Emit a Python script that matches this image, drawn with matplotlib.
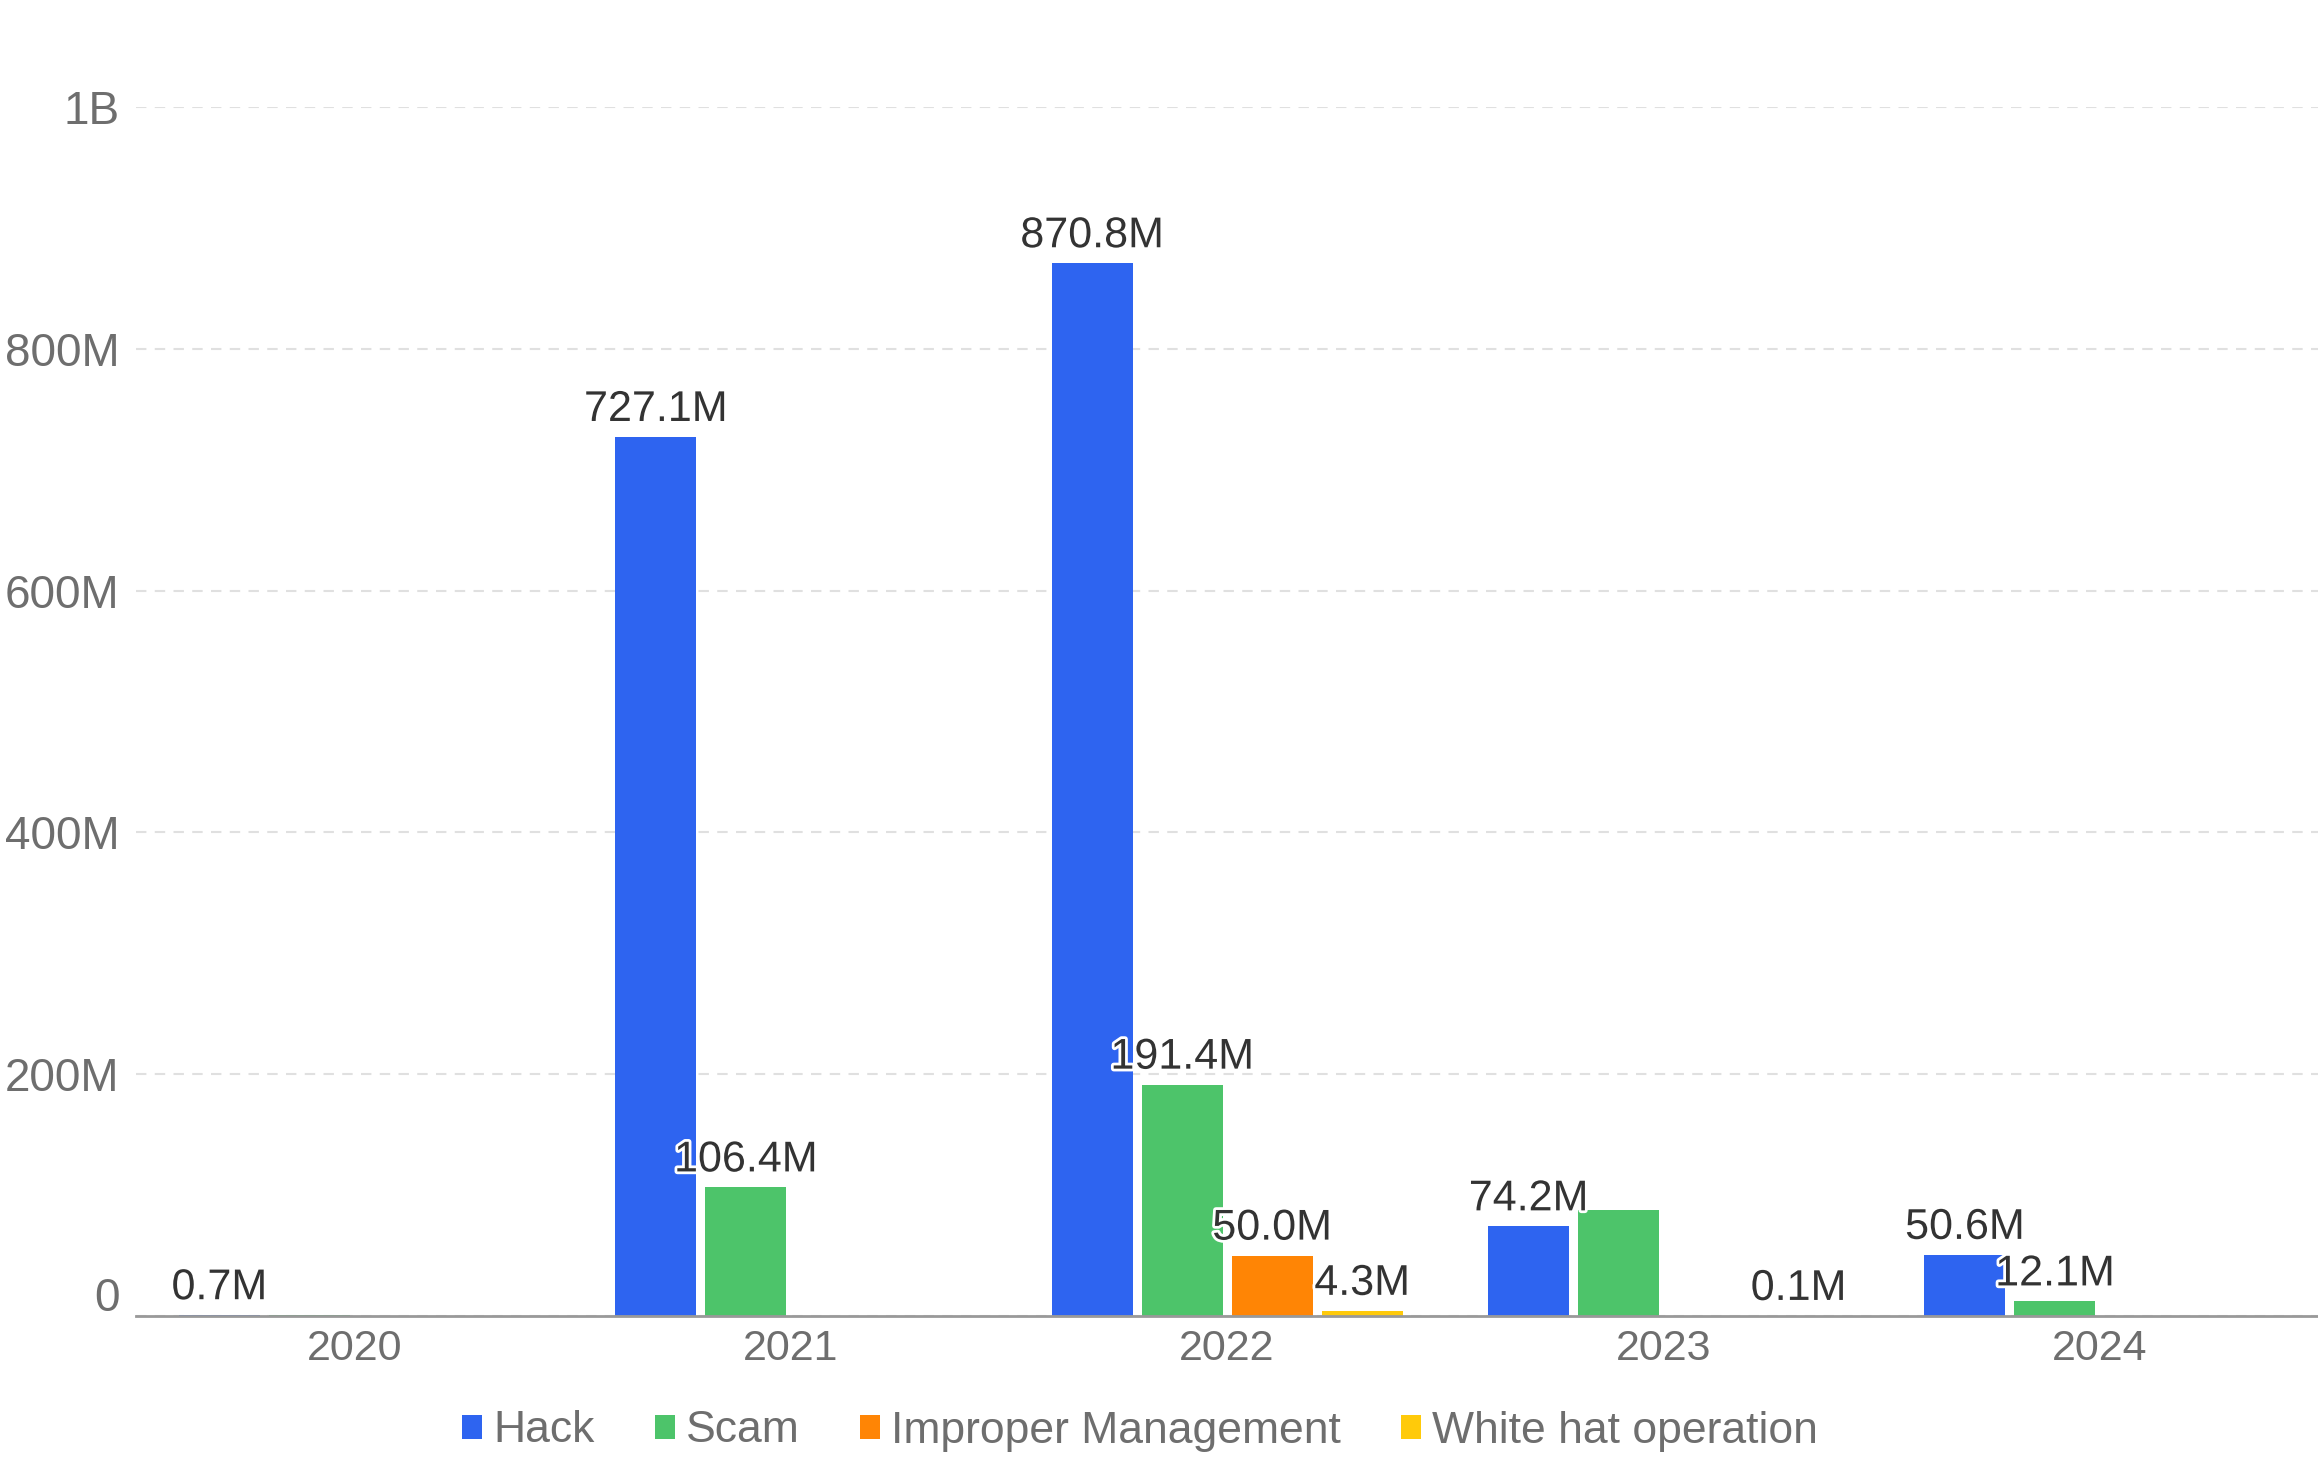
import matplotlib
matplotlib.use("Agg")
import matplotlib.pyplot as plt
import matplotlib.patheffects as pe
import matplotlib.transforms as mtransforms
from matplotlib.patches import Patch
import numpy as np

years = ["2020", "2021", "2022", "2023", "2024"]
series_names = ["Hack", "Scam", "Improper Management", "White hat operation"]
hack = [0.7, 727.1, 870.8, 74.2, 50.6]
scam = [0.5, 106.4, 191.4, 87.7, 12.1]
improper = [0.0, 0.0, 50.0, 0.0, 0.3]
whitehat = [0.0, 0.0, 4.3, 0.1, 0.0]
# which labels are shown in the reference (others hidden)
show_hack = [True, True, True, True, True]
show_scam = [False, True, True, False, True]
show_improper = [False, False, True, False, False]
show_whitehat = [False, False, True, True, False]

colors = ["#2E64F0", "#4DC46A", "#FF8505", "#FFCA0A"]
yticks = [0, 200, 400, 600, 800, 1000]
ytick_labels = ["0", "200M", "400M", "600M", "800M", "1B"]

plt.rcParams['font.family'] = ['Liberation Sans', 'DejaVu Sans']

fig = plt.figure(figsize=(23.18, 14.60), dpi=100)
ax = fig.add_axes([136/2318, 1 - 1316/1460, 1 - 136/2318, (1316 - 107)/1460])

x = np.arange(len(years))
w = 81/436.4
g = 9/436.4
data = [hack, scam, improper, whitehat]
shows = [show_hack, show_scam, show_improper, show_whitehat]
for i, (vals, sh, c, name) in enumerate(zip(data, shows, colors, series_names)):
    off = (i - 1.5) * (w + g)
    ax.bar(x + off, vals, width=w, color=c, label=name, zorder=3)
    for xi, v, s in zip(x, vals, sh):
        if s:
            ax.annotate(f"{v:.1f}M", (xi + off, v), xytext=(0, 5), textcoords="offset points",
                        ha="center", va="bottom", fontsize=31, color="#333333", zorder=5,
                        path_effects=[pe.withStroke(linewidth=4, foreground="white")])

ax.set_xlim(-0.5, 4.5)
ax.set_ylim(0, 1000)
ax.set_yticks(yticks)
ax.set_yticklabels(ytick_labels)
ax.set_xticks(x)
ax.set_xticklabels(years)
ax.tick_params(axis='both', length=0, labelcolor="#6E6E6E")
ax.tick_params(axis='y', pad=12, labelsize=33)
ax.tick_params(axis='x', pad=9, labelsize=31)
ax.grid(axis='y', color="#E0E0E0", linestyle=(0, (5, 4)), linewidth=1.5, zorder=0)
for sp in ["top", "right", "left"]:
    ax.spines[sp].set_visible(False)
ax.spines["bottom"].set_color("#999999")
ax.spines["bottom"].set_linewidth(2)
ax.spines["bottom"].set_zorder(4)

# the "0" label sits slightly above the axis line in the reference
zero_lbl = ax.get_yticklabels()[0]
zero_lbl.set_transform(zero_lbl.get_transform() +
                       mtransforms.ScaledTranslation(0, 22/100, fig.dpi_scale_trans))

handles = [Patch(facecolor=c, label=n) for c, n in zip(colors, series_names)]
fig.legend(handles=handles, loc="center", bbox_to_anchor=(1140/2318, 1 - 1431/1460), ncol=4,
           frameon=False, fontsize=32, labelcolor="#6E6E6E", handlelength=0.45, handleheight=0.45,
           handletextpad=0.25, columnspacing=1.35)

fig.savefig("out.png", dpi=100)
